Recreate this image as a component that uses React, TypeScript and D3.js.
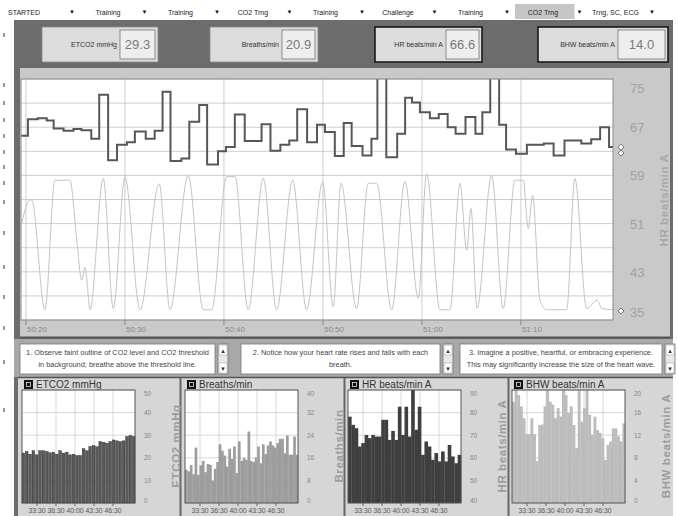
import * as d3 from "d3";

// ---- data ----
const menuItems = ["STARTED", "Training", "Training", "CO2 Trng", "Training", "Challenge", "Training", "CO2 Trng", "Trng, SC, ECG"];
const activeMenu = 7;

const meterLabels = ["ETCO2 mmHg", "Breaths/min", "HR beats/min A", "BHW beats/min A"];
const meterValues = ["29.3", "20.9", "66.6", "14.0"];

// HR step trace: [seconds after 50:00, beats/min]
const hrSteps: [number, number][] = [
  [19.5, 65.6], [20.2, 68.3], [21.2, 68.5], [22.1, 68.1], [22.8, 66.8], [23.8, 66.4], [24.8, 66.7], [25.6, 66.5],
  [26.6, 65.1], [27.4, 72.4], [28.3, 61.5], [29.2, 64.1], [30.2, 64.5], [31.0, 66.3], [32.1, 65.1], [33.0, 66.4],
  [33.8, 72.9], [34.6, 61.4], [35.7, 61.8], [36.5, 67.9], [37.5, 70.7], [38.3, 60.8], [39.4, 63.0], [40.2, 63.7],
  [41.1, 69.1], [42.1, 64.7], [43.8, 67.5], [44.7, 63.1], [45.7, 64.1], [46.6, 64.8], [47.4, 70.0], [48.4, 64.5],
  [49.4, 67.4], [50.2, 66.2], [51.2, 62.2], [52.1, 67.7], [52.9, 63.9], [54.0, 62.3], [54.9, 65.1], [55.5, 78],
  [56.4, 62.0], [57.5, 65.9], [58.3, 71.9], [59.0, 71.1], [59.8, 69.5], [60.8, 68.5], [61.7, 69.2], [62.6, 67.0],
  [63.4, 65.9], [64.4, 68.7], [65.4, 65.9], [66.1, 69.5], [66.9, 78], [67.8, 67.4], [68.5, 63.3], [69.5, 62.6],
  [70.6, 64.1], [72.3, 64.3], [73.3, 62.3], [74.4, 64.8], [76.1, 64.3], [77.1, 65.0], [78.0, 67.0], [78.9, 63.7],
  [79.3, 63.7],
];

// faint breathing / CO2 waveform, same axis
const breathWave: [number, number][] = [
  [19.57, 51.0], [20.4, 54.9], [20.58, 54.9], [21.92, 36.7], [22.93, 58.2], [24.44, 58.2], [25.15, 48],
  [25.63, 41.6], [25.96, 43.8], [26.16, 41.5], [26.46, 36.7], [27.81, 58.5], [28.82, 36.9], [30.0, 58.7],
  [31.52, 36.7], [33.46, 57.6], [34.55, 36.7], [36.39, 59.0], [37.91, 36.7], [38.76, 36.7], [40.27, 58.8],
  [41.11, 58.8], [42.45, 36.7], [43.97, 58.5], [45.32, 36.7], [46.94, 58.2], [48.35, 36.7], [49.97, 57.9],
  [51.04, 37.2], [51.82, 57.7], [53.4, 36.9], [54.58, 57.7], [55.42, 57.7], [56.94, 36.7], [58.28, 58.0],
  [59.63, 38.6], [60.47, 59.3], [61.82, 36.7], [62.83, 36.7], [63.84, 57.7], [64.52, 46.6], [64.95, 53.5],
  [65.56, 36.9], [67.04, 59.0], [68.21, 36.9], [69.39, 58.2], [70.23, 58.2], [70.74, 50.2], [71.18, 55.7],
  [71.92, 38.3], [72.6, 36.7], [74.62, 36.7], [75.45, 58.5], [76.64, 36.9], [77.71, 38.3], [78.18, 36.9],
  [79.29, 36.7],
];

const hrTicks = [35, 43, 51, 59, 67, 75];
const timeTicks = [20, 30, 40, 50, 60, 70];
const timeLabels = ["50:20", "50:30", "50:40", "50:50", "51:00", "51:10"];

const instructions = [
  ["1. Observe faint outline of CO2 level and CO2 threshold", "in background; breathe above the threshold line."],
  ["2. Notice how your heart rate rises and falls with each", "breath."],
  ["3. Imagine a positive, heartful, or embracing experience.", "This may significantly increase the size of the heart wave."],
];

const trendLabels = ["33:30", "36:30", "40:00", "43:30", "46:30"];

const etco2Trend = [22.1, 22.8, 21.6, 23.1, 21.3, 23.1, 23.1, 22.8, 22.2, 22.5, 21.6, 23.1, 22.1, 22.5, 21.3, 21.6, 21.0,
  21.0, 24.0, 23.1, 25.0, 25.4, 24.9, 27.2, 26.9, 26.5, 27.2, 27.9, 27.5, 27.2, 27.5, 29.4, 29.9, 29.4];
const etco2Ticks = [0, 10, 20, 30, 40, 50];

const breathsTrend = [11.8, 11.2, 13.5, 10.2, 19.6, 10.0, 13.3, 14.9, 10.9, 13.8, 13.5, 7.9, 12.1, 14.5, 20.8, 18.5,
  16.8, 12.9, 19.2, 15.6, 20.0, 10.6, 21.8, 14.9, 15.9, 15.3, 25.3, 14.9, 14.5, 16.1, 20.0, 14.1, 20.8, 17.3, 20.4,
  21.8, 20.4, 19.6, 21.2, 22.7, 22.7, 17.6, 23.9, 17.1, 17.1, 23.5, 17.1];
const breathsTicks = [0, 8, 16, 24, 32, 40];

const hrTrend = [78.2, 74.6, 73.1, 65.0, 66.5, 70.1, 68.7, 70.1, 69.4, 69.4, 76.8, 76.8, 67.9, 71.9, 67.9, 82.6, 70.1,
  82.6, 69.4, 90, 72.4, 82.6, 61.3, 67.2, 65.0, 59.1, 62.1, 58.4, 62.8, 58.4, 65.7, 60.6, 57.6, 61.3];
const hrTrendTicks = [40, 50, 60, 70, 80, 90];

const bhwTrend = [17.9, 20, 19.1, 17.1, 15, 12.2, 12.2, 15, 12.2, 7.4, 13.8, 13.9, 17.1, 20, 17.9, 17.4, 15, 16.8,
  15.3, 20, 19.1, 15.9, 17.1, 13.8, 9.7, 20, 14.4, 16.8, 20, 15.6, 12.1, 15.3, 12.9, 12.4, 11.5, 7.6, 10.3, 10.9,
  13.2, 13.2, 11.8, 10.9, 14.1];
const bhwTicks = [0, 4, 8, 12, 16, 20];

const font = "'Liberation Sans', Arial, sans-serif";

function TrendPanel(props: {
  left: number; title: string; axisTitle: string; values: number[]; ticks: number[];
  fill: string; gap: boolean;
}) {
  const { left, title, axisTitle, values, ticks, fill, gap } = props;
  const top = 390, bottom = 503, w = 113;
  const xb = d3.scaleBand<number>().domain(d3.range(values.length)).range([left, left + w]).paddingInner(gap ? 0.2 : 0);
  const yv = d3.scaleLinear().domain([ticks[0], ticks[ticks.length - 1]]).range([bottom, top]);
  const xt = d3.scalePoint<string>().domain(trendLabels).range([left + 15, left + 91]);
  return (
    <g>
      <rect x={left + 2} y={380} width={9} height={9} fill="#111" />
      <rect x={left + 4.5} y={382.5} width={4} height={4} fill="none" stroke="#ddd" strokeWidth={0.8} />
      <text x={left + 14} y={387.5} fontSize={10} fill="#333" fontFamily={font}>{title}</text>
      <rect x={left} y={top} width={w} height={bottom - top} fill="#fff" />
      {ticks.map((t) => (
        <line key={t} x1={left} x2={left + w} y1={yv(t)} y2={yv(t)} stroke="#c8c8c8" strokeWidth={0.7} />
      ))}
      {trendLabels.map((l) => (
        <line key={l} x1={xt(l)} x2={xt(l)} y1={top} y2={bottom} stroke="#c8c8c8" strokeWidth={0.7} />
      ))}
      {values.map((v, i) => (
        <rect key={i} x={xb(i)} y={yv(v)} width={xb.bandwidth() + (gap ? 0 : 0.3)} height={bottom - yv(v)}
          fill={fill} stroke={gap ? "#222" : "none"} strokeWidth={gap ? 0.4 : 0} />
      ))}
      <rect x={left} y={top} width={w} height={bottom - top} fill="none" stroke="#555" strokeWidth={1} />
      {trendLabels.map((l) => (
        <g key={l}>
          <line x1={xt(l)} x2={xt(l)} y1={bottom} y2={bottom + 3} stroke="#666" />
          <text x={xt(l)} y={513} fontSize={6.6} fill="#555" textAnchor="middle" fontFamily={font}
            textLength={17} lengthAdjust="spacingAndGlyphs">{l}</text>
        </g>
      ))}
      {ticks.map((t) => (
        <text key={t} x={left + w + 9} y={Math.min(Math.max(yv(t) + 2.5, top + 6), bottom)} fontSize={6.5}
          fill="#888" fontFamily={font}>{t}</text>
      ))}
      <text transform={`translate(${left + w + 45},446) rotate(-90)`} textAnchor="middle" fontSize={11.5}
        fontWeight="bold" fill="#9c9c9c" fontFamily={font} letterSpacing={0.6}>{axisTitle}</text>
    </g>
  );
}

export default function App() {
  const W = 678, H = 516;
  const x = d3.scaleLinear().domain([19.5, 79.3]).range([21, 613]);
  const y = d3.scaleLinear().domain([35, 75]).range([320, 79]);
  const hrLine = d3.line<[number, number]>().x((d) => x(d[0])).y((d) => y(d[1])).curve(d3.curveStepAfter);
  const waveLine = d3.line<[number, number]>().x((d) => x(d[0])).y((d) => y(d[1])).curve(d3.curveMonotoneX);
  const gridY = d3.range(35, 75.01, 4);
  const arrowX = d3.scaleLinear().domain([0, menuItems.length - 1]).range([72, 652]);

  const meters = [
    { x: 42, w: 116, vw: 35, bold: false },
    { x: 210, w: 108, vw: 33, bold: false },
    { x: 375, w: 107, vw: 33, bold: true },
    { x: 538, w: 130, vw: 47, bold: true },
  ];
  const boxes = [{ x: 20, w: 195 }, { x: 241, w: 199 }, { x: 460, w: 202 }];
  const edgeTicks = [35, 85, 103, 120, 136, 152, 167, 183, 202, 233, 267, 297, 328, 362, 410];

  return (
    <svg width={W} height={H} style={{ position: "absolute", left: 0, top: 0, background: "#fff" }}>
      <defs>
        <clipPath id="plotClip">
          <rect x={21} y={79} width={592} height={241} />
        </clipPath>
      </defs>

      {/* menu strip */}
      {menuItems.map((m, i) => {
        const cx = i === 0 ? 8 : arrowX(i - 1) + 36;
        return (
          <g key={i}>
            {i === activeMenu && (
              <rect x={arrowX(i - 1) + 8} y={4} width={arrowX(i) - arrowX(i - 1) - 13} height={15} fill="#c6c6c6" />
            )}
            <text x={cx} y={15} fontSize={7} fill="#222" textAnchor={i === 0 ? "start" : "middle"} fontFamily={font}>{m}</text>
            <text x={arrowX(i)} y={14} fontSize={6} fill="#111" textAnchor="middle" fontFamily={font}>▼</text>
          </g>
        );
      })}

      {/* dark frame */}
      <rect x={14} y={20} width={659} height={496} fill="#6c6c6c" />
      {edgeTicks.map((t) => (
        <line key={t} x1={4} x2={4} y1={t - 2} y2={t + 2} stroke="#333" strokeWidth={1} />
      ))}

      {/* meter boxes */}
      {meters.map((m, i) => (
        <g key={i}>
          <rect x={m.x} y={27} width={m.w} height={35} fill="#dcdcdc" stroke={m.bold ? "#111" : "#8a8a8a"}
            strokeWidth={m.bold ? 1.5 : 0.8} />
          <rect x={m.x + m.w - m.vw - 3} y={30} width={m.vw} height={29} fill="#eeeeee" stroke="#777" strokeWidth={0.8} />
          <text x={m.x + m.w - m.vw - 6} y={47} fontSize={7} fill="#333" textAnchor="end" fontFamily={font}>{meterLabels[i]}</text>
          <text x={m.x + m.w - 3 - m.vw / 2} y={49} fontSize={13} fill="#7a7a7a" textAnchor="middle" fontFamily={font}>{meterValues[i]}</text>
        </g>
      ))}

      {/* main chart panel */}
      <rect x={20} y={68} width={650} height={269} fill="#c9c9c9" />
      <rect x={21} y={79} width={592} height={241} fill="#fff" />
      {gridY.map((g) => (
        <line key={g} x1={21} x2={613} y1={y(g)} y2={y(g)} stroke="#c2c2c2" strokeWidth={0.8} />
      ))}
      {timeTicks.map((t) => (
        <line key={t} x1={x(t)} x2={x(t)} y1={79} y2={320} stroke="#c2c2c2" strokeWidth={0.8} />
      ))}
      <g clipPath="url(#plotClip)">
        <path d={waveLine(breathWave) ?? ""} fill="none" stroke="#c4c4c4" strokeWidth={1} />
        <path d={hrLine(hrSteps) ?? ""} fill="none" stroke="#575757" strokeWidth={2} />
      </g>
      <rect x={21} y={79} width={592} height={241} fill="none" stroke="#8c8c8c" strokeWidth={1} />
      {timeTicks.map((t, i) => (
        <g key={t}>
          <line x1={x(t)} x2={x(t)} y1={320} y2={325} stroke="#888" />
          <text x={x(t) + 1} y={332} fontSize={8} fill="#8a8a8a" fontFamily={font}>{timeLabels[i]}</text>
        </g>
      ))}
      {hrTicks.map((t, i) => (
        <text key={t} x={630} y={i === hrTicks.length - 1 ? 93 : i === 0 ? 317 : y(t) + 5} fontSize={13}
          fill="#a2a2a2" fontFamily={font}>{t}</text>
      ))}
      {/* threshold markers */}
      <g stroke="#555" strokeWidth={0.8} fill="#fff">
        <path d={`M621,${y(63.2) - 6} l3,3 l-3,3 l-3,-3 Z`} />
        <path d={`M621,${y(63.2)} l3,3 l-3,3 l-3,-3 Z`} />
        <path d={`M621,${y(36.5) - 3} l3,3 l-3,3 l-3,-3 Z`} />
      </g>
      <text transform="translate(668,200) rotate(-90)" textAnchor="middle" fontSize={11.5} fontWeight="bold"
        fill="#a8a8a8" fontFamily={font} letterSpacing={0.6}>HR beats/min A</text>
      <line x1={20} x2={670} y1={337.5} y2={337.5} stroke="#555" strokeWidth={2} />

      {/* instruction row */}
      <rect x={14} y={339} width={659} height={38} fill="#a8a8a8" />
      {boxes.map((b, i) => (
        <g key={i}>
          <rect x={b.x} y={344} width={b.w} height={30} fill="#fff" stroke="#777" strokeWidth={0.8} />
          {instructions[i].map((line, j) => (
            <text key={j} x={b.x + b.w / 2} y={355 + j * 12} fontSize={7.4} fill="#444" textAnchor="middle"
              fontFamily={font}>{line}</text>
          ))}
          <rect x={b.x + b.w + 3} y={344} width={10} height={30} fill="#e8e8e8" stroke="#777" strokeWidth={0.8} />
          <rect x={b.x + b.w + 4} y={345} width={8} height={10} fill="#fff" stroke="#999" strokeWidth={0.5} />
          <rect x={b.x + b.w + 4} y={363} width={8} height={10} fill="#fff" stroke="#999" strokeWidth={0.5} />
          <text x={b.x + b.w + 8} y={353} fontSize={6} textAnchor="middle" fill="#333" fontFamily={font}>▲</text>
          <text x={b.x + b.w + 8} y={371} fontSize={6} textAnchor="middle" fill="#333" fontFamily={font}>▼</text>
        </g>
      ))}

      {/* trend panels */}
      <rect x={18} y={378} width={655} height={138} fill="#d6d6d6" />
      <line x1={18} x2={673} y1={377.5} y2={377.5} stroke="#555" strokeWidth={1.5} />
      {[180.5, 344.5, 508.5].map((sx) => (
        <line key={sx} x1={sx} x2={sx} y1={378} y2={516} stroke="#666" strokeWidth={2} />
      ))}
      <TrendPanel left={22} title="ETCO2 mmHg" axisTitle="ETCO2 mmHg" values={etco2Trend} ticks={etco2Ticks} fill="#5a5a5a" gap={true} />
      <TrendPanel left={185} title="Breaths/min" axisTitle="Breaths/min" values={breathsTrend} ticks={breathsTicks} fill="#9d9d9d" gap={false} />
      <TrendPanel left={348} title="HR beats/min A" axisTitle="HR beats/min A" values={hrTrend} ticks={hrTrendTicks} fill="#3f3f3f" gap={false} />
      <TrendPanel left={512} title="BHW beats/min A" axisTitle="BHW beats/min A" values={bhwTrend} ticks={bhwTicks} fill="#bcbcbc" gap={false} />
    </svg>
  );
}
